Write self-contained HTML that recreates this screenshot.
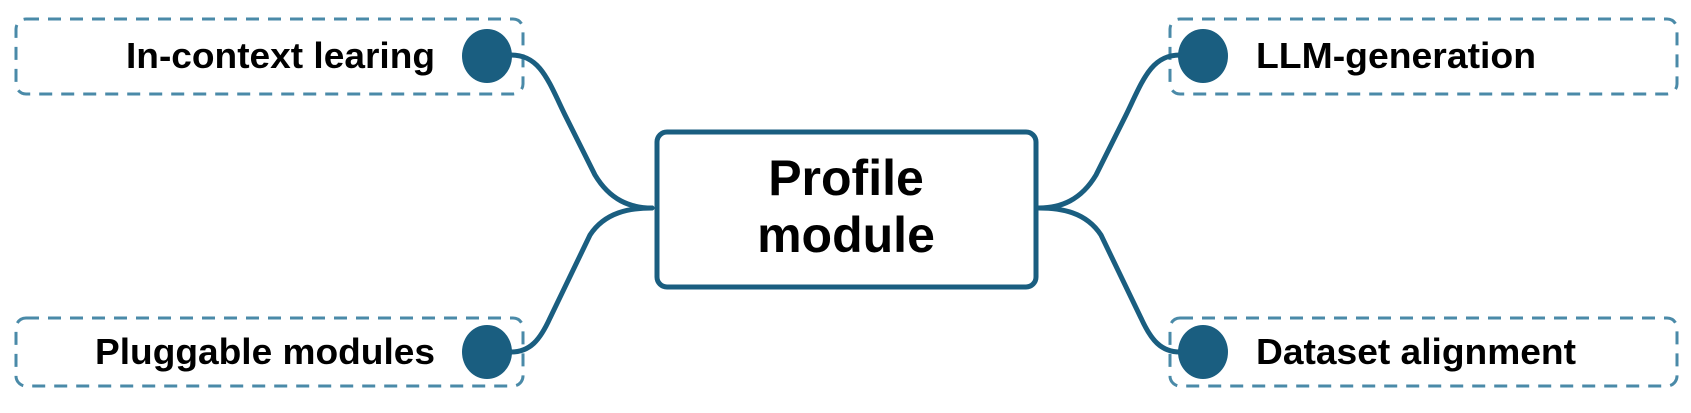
<!DOCTYPE html>
<html><head><meta charset="utf-8"><style>
html,body{margin:0;padding:0;background:#fff;}
svg text{font-family:"Liberation Sans",Arial,sans-serif;font-weight:bold;fill:#000;}
</style></head><body>
<svg width="1691" height="408" viewBox="0 0 1691 408" xmlns="http://www.w3.org/2000/svg">
<g fill="none" stroke="#4a8aa8" stroke-width="3" stroke-dasharray="13,9">
<rect x="16" y="19" width="507" height="75" rx="10"/>
<rect x="1170" y="19" width="507" height="75" rx="10"/>
<rect x="16" y="318" width="507" height="68" rx="10"/>
<rect x="1170" y="318" width="507" height="68" rx="10"/>
</g>
<g fill="none" stroke="#1a5e80" stroke-width="5" stroke-linecap="round">
<path d="M511,55 C540,55 548,80 565,115 L595,175 C610,200 630,208 652,208"/>
<path d="M511,352 C530,352 540,340 550,318 L590,235 C605,212 630,208 652,208"/>
<path d="M1180,55 C1151,55 1143,80 1126,115 L1096,175 C1081,200 1061,208 1039,208"/>
<path d="M1180,352 C1161,352 1151,340 1141,318 L1101,235 C1086,212 1061,208 1039,208"/>
</g>
<rect x="657" y="132" width="379" height="155" rx="10" fill="#fff" stroke="#1a5e80" stroke-width="5"/>
<g fill="#1a5e80">
<ellipse cx="487" cy="56" rx="25" ry="27"/>
<ellipse cx="1203" cy="56" rx="25" ry="27"/>
<ellipse cx="487" cy="352" rx="25" ry="27"/>
<ellipse cx="1203" cy="352" rx="25" ry="27"/>
</g>
<text x="846" y="195" font-size="50" text-anchor="middle">Profile</text>
<text x="846" y="252" font-size="50" text-anchor="middle">module</text>
<text x="435" y="68" font-size="36" text-anchor="end" textLength="309" lengthAdjust="spacingAndGlyphs">In-context learing</text>
<text x="435" y="364" font-size="36" text-anchor="end" textLength="340" lengthAdjust="spacingAndGlyphs">Pluggable modules</text>
<text x="1256" y="68" font-size="36" textLength="280" lengthAdjust="spacingAndGlyphs">LLM-generation</text>
<text x="1256" y="364" font-size="36" textLength="320" lengthAdjust="spacingAndGlyphs">Dataset alignment</text>
</svg>
</body></html>
